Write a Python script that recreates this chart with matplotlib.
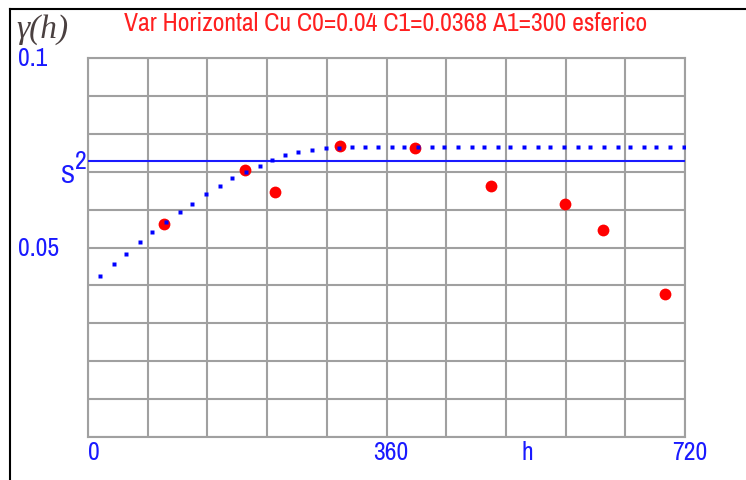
import matplotlib
matplotlib.use("Agg")
import matplotlib.pyplot as plt
from matplotlib.lines import Line2D
from matplotlib.transforms import blended_transform_factory

# variograma horizontal Cu
titulo = "Var Horizontal Cu C0=0.04 C1=0.0368 A1=300 esferico"

# modelo esferico (puntos azules)
model_h = [14, 31, 46, 63, 77, 94, 111, 125, 142, 159, 174, 190, 207, 222, 238,
           253, 270, 287, 303, 318, 334, 350, 367, 381, 398, 415, 429, 446, 463,
           478, 494, 509, 526, 543, 557, 574, 591, 605, 622, 639, 654, 671, 685,
           702, 719]
model_g = [0.0425, 0.0456, 0.0482, 0.0514, 0.0540, 0.0566, 0.0593, 0.0614,
           0.0640, 0.0661, 0.0683, 0.0700, 0.0714, 0.0732, 0.0744, 0.0753,
           0.0757, 0.0762, 0.0763, 0.0764, 0.0764, 0.0764, 0.0764, 0.0764,
           0.0764, 0.0764, 0.0764, 0.0764, 0.0764, 0.0764, 0.0764, 0.0764,
           0.0764, 0.0764, 0.0764, 0.0764, 0.0764, 0.0764, 0.0764, 0.0764,
           0.0764, 0.0764, 0.0764, 0.0764, 0.0764]

# variograma experimental (puntos rojos)
exp_h = [92, 189, 225, 304, 394, 486, 575, 621, 696]
exp_g = [0.0561, 0.0704, 0.0646, 0.0769, 0.0763, 0.0661, 0.0614, 0.0545, 0.0377]

S2 = 0.0728  # varianza

FONT = ["Archivo Narrow", "DejaVu Sans Condensed", "DejaVu Sans"]
FS = 18.5
AZUL = "#1a1aff"

W, H = 746, 481
fig = plt.figure(figsize=(W / 100, H / 100), dpi=100)
ax = fig.add_axes([88 / W, 1 - 438 / H, (685 - 88) / W, (438 - 59) / H])

ax.set_xlim(0, 720)
ax.set_ylim(0, 0.1)
ax.set_xticks([i * 72 for i in range(11)])
ax.set_yticks([i * 0.01 for i in range(11)])
ax.grid(True, color="#a0a0a0", lw=1.5)
ax.tick_params(length=0, labelbottom=False, labelleft=False)
for sp in ax.spines.values():
    sp.set_color("#a0a0a0")
    sp.set_linewidth(1.5)

ax.axhline(S2, color=AZUL, lw=1.5, zorder=3)
ax.plot(exp_h, exp_g, "o", color="#ff0000", ms=8.5, mec="none", zorder=4)
ax.plot(model_h, model_g, "s", color="#0000ff", ms=3.2, mec="none", zorder=5)

# textos
fig.text(386 / W, 1 - 31 / H, titulo, color="#ff2020", fontsize=FS,
         family=FONT, ha="center", va="baseline")
fig.text(16 / W, 1 - 38 / H, "γ(h)", color="#4a4040", fontsize=24,
         family=["Liberation Serif", "DejaVu Serif"], style="italic",
         va="baseline")

ty = blended_transform_factory(fig.transFigure, ax.transData)
ax.text(18 / W, 0.1, "0.1", transform=ty, color=AZUL, fontsize=FS,
        family=FONT, va="center")
ax.text(18 / W, 0.05, "0.05", transform=ty, color=AZUL, fontsize=FS,
        family=FONT, va="center")
ax.text(75 / W, S2 - 0.0006, "S", transform=ty, color=AZUL, fontsize=FS,
        family=FONT, ha="right", va="top")
ax.text(87 / W, S2 + 0.0002, "2", transform=ty, color=AZUL, fontsize=FS,
        family=FONT, ha="right", va="center")

tx = blended_transform_factory(ax.transData, fig.transFigure)
ax.text(0, 1 - 460 / H, "0", transform=tx, color=AZUL, fontsize=FS,
        family=FONT, ha="left", va="baseline")
ax.text(365, 1 - 460 / H, "360", transform=tx, color=AZUL, fontsize=FS,
        family=FONT, ha="center", va="baseline")
ax.text(530, 1 - 460 / H, "h", transform=tx, color=AZUL, fontsize=FS,
        family=FONT, ha="center", va="baseline")
ax.text(726, 1 - 460 / H, "720", transform=tx, color=AZUL, fontsize=FS,
        family=FONT, ha="center", va="baseline")

# marco negro de la ventana
fig.add_artist(Line2D([10 / W, 10 / W], [0, 1 - 10 / H], color="black", lw=1.5,
                      transform=fig.transFigure))
fig.add_artist(Line2D([10 / W, 1], [1 - 10 / H, 1 - 10 / H], color="black",
                      lw=1.5, transform=fig.transFigure))

fig.savefig("out.png", dpi=100)
